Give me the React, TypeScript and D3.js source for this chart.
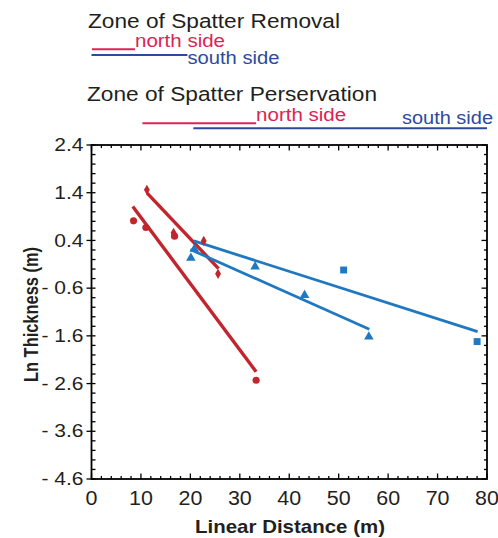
import * as d3 from "d3";
import React from "react";

// red, circles (north side)
const northCircles: [number, number][] = [
  [8.5, 0.81], [11.0, 0.67], [16.8, 0.49], [33.3, -2.53],
];
// red, diamonds (north side)
const northDiamonds: [number, number][] = [
  [11.2, 1.46], [16.6, 0.56], [22.7, 0.39], [25.6, -0.3],
];
// blue, triangles (south side)
const southTriangles: [number, number][] = [
  [20.1, 0.03], [20.8, 0.22], [33.1, -0.15], [43.1, -0.75], [56.1, -1.62],
];
// blue, squares (south side)
const southSquares: [number, number][] = [
  [51.0, -0.22], [78.0, -1.72],
];

// fitted lines, end points
const northFitA: [number, number][] = [[8.35, 1.11], [33.3, -2.35]];
const northFitB: [number, number][] = [[11.25, 1.39], [25.7, -0.19]];
const southFitA: [number, number][] = [[20.7, 0.39], [78.1, -1.51]];
const southFitB: [number, number][] = [[20.0, 0.21], [56.2, -1.46]];

// zone extents along the distance axis
const removalNorth = [0.1, 8.8];
const removalSouth = [0, 19.4];
const preservNorth = [10.3, 33.3];
const preservSouth = [20.6, 80];

const xTicks = [0, 10, 20, 30, 40, 50, 60, 70, 80];
const yTicks = [2.4, 1.4, 0.4, -0.6, -1.6, -2.6, -3.6, -4.6];

const RED = "#c1252d";
const BLUE = "#2078c0";
const LRED = "#dc2454";
const LBLUE = "#2c4b9e";
const INK = "#231f20";
const FONT = "'Liberation Sans', Arial, Helvetica, sans-serif";

const fmtY = (v: number) => (v < 0 ? "- " + Math.abs(v).toFixed(1) : v.toFixed(1));

export default function App() {
  const left = 91.5, right = 487, top = 145, bottom = 479;
  const x = d3.scaleLinear().domain([0, 80]).range([left, right]);
  const y = d3.scaleLinear().domain([-4.6, 2.4]).range([bottom, top]);
  const line = d3.line<[number, number]>().x(d => x(d[0])).y(d => y(d[1]));

  const minorX = d3.range(0, 41).map(i => i * 2);
  const minorY = d3.range(0, 36).map(i => +(-4.6 + i * 0.2).toFixed(1));

  const circle = d3.symbol(d3.symbolCircle, 40)()!;
  const diamond = d3.symbol(d3.symbolDiamond, 30)()!;
  const triangle = d3.symbol(d3.symbolTriangle, 40)()!;
  const square = d3.symbol(d3.symbolSquare, 48)()!;

  return (
    <svg width={498} height={538} style={{ position: "absolute", left: 0, top: 0, background: "#fff" }}>
      {/* zone legend */}
      <g fontFamily={FONT}>
        <text x={88} y={28} fontSize={20.5} fill={INK} textLength={252} lengthAdjust="spacingAndGlyphs">Zone of Spatter Removal</text>
        <line x1={x(removalNorth[0])} x2={x(removalNorth[1])} y1={49.3} y2={49.3} stroke={LRED} strokeWidth={2} />
        <text x={x(removalNorth[1])} y={47} fontSize={18} fill={LRED} textLength={90} lengthAdjust="spacingAndGlyphs">north side</text>
        <line x1={x(removalSouth[0])} x2={x(removalSouth[1])} y1={55} y2={55} stroke={LBLUE} strokeWidth={2} />
        <text x={x(removalSouth[1])} y={64} fontSize={18} fill={LBLUE} textLength={92} lengthAdjust="spacingAndGlyphs">south side</text>

        <text x={87} y={101} fontSize={20.5} fill={INK} textLength={290} lengthAdjust="spacingAndGlyphs">Zone of Spatter Perservation</text>
        <line x1={x(preservNorth[0])} x2={x(preservNorth[1])} y1={123.3} y2={123.3} stroke={LRED} strokeWidth={2} />
        <text x={x(preservNorth[1])} y={121} fontSize={18} fill={LRED} textLength={90} lengthAdjust="spacingAndGlyphs">north side</text>
        <line x1={x(preservSouth[0])} x2={x(preservSouth[1])} y1={128.3} y2={128.3} stroke={LBLUE} strokeWidth={2} />
        <text x={402} y={124} fontSize={18} fill={LBLUE} textLength={91} lengthAdjust="spacingAndGlyphs">south side</text>
      </g>

      {/* ticks */}
      <g stroke="#000" strokeWidth={1.3}>
        {minorX.map(v => (
          <g key={"mx" + v}>
            <line x1={x(v)} x2={x(v)} y1={bottom} y2={bottom - (v % 10 === 0 ? 5.5 : 3)} />
            <line x1={x(v)} x2={x(v)} y1={top} y2={top + (v % 10 === 0 ? 5.5 : 3)} />
          </g>
        ))}
        {minorY.map((v, i) => (
          <g key={"my" + v}>
            <line x1={i % 5 === 0 ? left - 5 : left} x2={left + 4} y1={y(v)} y2={y(v)} />
            <line x1={right} x2={right - (i % 5 === 0 ? 5.5 : 3)} y1={y(v)} y2={y(v)} />
          </g>
        ))}
      </g>

      {/* frame */}
      <rect x={left} y={top} width={right - left} height={bottom - top} fill="none" stroke="#000" strokeWidth={1.8} />

      {/* tick labels */}
      <g fontFamily={FONT} fill={INK}>
        {xTicks.map(v => (
          <g key={"xl" + v} transform={`translate(${x(v)},504.5) scale(1.1,1)`}>
            <text textAnchor="middle" fontSize={19.5}>{v}</text>
          </g>
        ))}
        {yTicks.map(v => (
          <g key={"yl" + v} transform={`translate(83.5,${y(v) + 6.2}) scale(1.2,1)`}>
            <text textAnchor="end" fontSize={17.5}>{fmtY(v)}</text>
          </g>
        ))}
      </g>

      {/* axis titles */}
      <text x={290} y={533} textAnchor="middle" fontFamily={FONT} fontWeight="bold" fontSize={18.6} fill={INK}
        textLength={190} lengthAdjust="spacingAndGlyphs">Linear Distance (m)</text>
      <g transform="translate(38,314.5) rotate(-90)">
        <text textAnchor="middle" fontFamily={FONT} fontWeight="bold" fontSize={20} fill={INK}
          textLength={135} lengthAdjust="spacingAndGlyphs">Ln Thickness (m)</text>
      </g>

      {/* fitted lines */}
      <g fill="none" strokeLinecap="butt">
        <path d={line(northFitA)!} stroke={RED} strokeWidth={3.4} />
        <path d={line(northFitB)!} stroke={RED} strokeWidth={3.4} />
        <path d={line(southFitA)!} stroke={BLUE} strokeWidth={2.8} />
        <path d={line(southFitB)!} stroke={BLUE} strokeWidth={2.8} />
      </g>

      {/* data points */}
      {northCircles.map((d, i) => (
        <path key={"c" + i} d={circle} transform={`translate(${x(d[0])},${y(d[1])})`} fill={RED} />
      ))}
      {northDiamonds.map((d, i) => (
        <path key={"d" + i} d={diamond} transform={`translate(${x(d[0])},${y(d[1])})`} fill={RED} />
      ))}
      {southTriangles.map((d, i) => (
        <path key={"t" + i} d={triangle} transform={`translate(${x(d[0])},${y(d[1])})`} fill={BLUE} />
      ))}
      {southSquares.map((d, i) => (
        <path key={"s" + i} d={square} transform={`translate(${x(d[0])},${y(d[1])})`} fill={BLUE} />
      ))}
    </svg>
  );
}
